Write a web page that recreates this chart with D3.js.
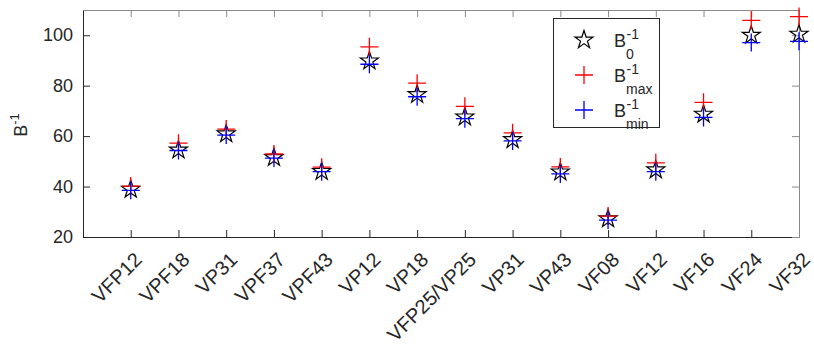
<!DOCTYPE html>
<html>
<head>
<meta charset="utf-8">
<script src="https://cdn.jsdelivr.net/npm/d3@7"></script>
<style>
  html, body { margin: 0; padding: 0; background: #fff; }
  svg { display: block; font-family: "Liberation Sans", Arial, Helvetica, sans-serif; }
</style>
</head>
<body>
<svg id="chart" width="814" height="345"></svg>
<script>
// Specimen names along the x axis
const categories = ["VFP12", "VPF18", "VP31", "VPF37", "VPF43", "VP12", "VP18",
  "VFP25/VP25", "VP31", "VP43", "VF08", "VF12", "VF16", "VF24", "VF32"];

// Inverse B values per specimen
const b0Values   = [38.9, 54.5, 60.9, 51.5, 46.0, 89.8, 76.5, 67.6, 58.6, 45.8, 27.2, 46.6, 68.7, 100.0, 100.4];
const bMaxValues = [40.2, 57.2, 62.8, 52.9, 47.7, 95.4, 81.0, 71.8, 61.3, 47.8, 28.3, 49.4, 73.4, 105.9, 107.4];
const bMinValues = [38.5, 54.3, 60.4, 51.3, 45.9, 88.5, 75.6, 66.9, 58.1, 45.0, 26.7, 45.9, 67.4, 97.1, 97.6];

const yTicks = [20, 40, 60, 80, 100];
const yDomain = [20, 110];

const svg = d3.select("#chart");
const margin = { left: 83, right: 15, top: 10, bottom: 108 };
const width = 814, height = 345;
const x0 = margin.left, x1 = width - margin.right;
const y0 = height - margin.bottom, y1 = margin.top;

const x = d3.scaleLinear().domain([0, categories.length]).range([x0, x1]);
const y = d3.scaleLinear().domain(yDomain).range([y0, y1]);

const axisColor = "#262626";
const fontSize = 18;

// Axes box with inward ticks on all four sides
const idx = d3.range(1, categories.length + 1);

const gBottom = svg.append("g").attr("transform", `translate(0,${y0})`)
  .call(d3.axisBottom(x).tickValues(idx).tickSizeInner(-7).tickSizeOuter(0)
    .tickFormat(d => categories[d - 1]));
const gTop = svg.append("g").attr("transform", `translate(0,${y1})`)
  .call(d3.axisTop(x).tickValues(idx).tickSizeInner(-7).tickSizeOuter(0).tickFormat(""));
const gLeft = svg.append("g").attr("transform", `translate(${x0},0)`)
  .call(d3.axisLeft(y).tickValues(yTicks).tickSizeInner(-7).tickSizeOuter(0).tickPadding(10));
const gRight = svg.append("g").attr("transform", `translate(${x1},0)`)
  .call(d3.axisRight(y).tickValues(yTicks).tickSizeInner(-7).tickSizeOuter(0).tickFormat(""));

[gBottom, gTop, gLeft, gRight].forEach(g => {
  g.selectAll("path.domain").attr("stroke", axisColor).attr("stroke-width", 1);
  g.selectAll(".tick line").attr("stroke", axisColor).attr("stroke-width", 1);
  g.selectAll("text").attr("fill", axisColor).attr("font-size", fontSize)
    .attr("font-family", "'Liberation Sans', Arial, Helvetica, sans-serif");
});
gTop.selectAll("path.domain, .tick line").attr("stroke", "#8a8a8a");
gRight.selectAll("path.domain, .tick line").attr("stroke", "#8a8a8a");

// Rotated category labels
gBottom.selectAll(".tick text")
  .attr("font-size", 20)
  .attr("text-anchor", "end")
  .attr("dy", "0.35em")
  .attr("y", 0)
  .attr("transform", "translate(7,19) rotate(-45)");

// Y-axis title: B^-1
const yTitle = svg.append("text")
  .attr("transform", "translate(27,125) rotate(-90)")
  .attr("text-anchor", "middle")
  .attr("fill", axisColor)
  .attr("font-size", fontSize);
yTitle.append("tspan").text("B");
yTitle.append("tspan").attr("font-size", 13).attr("dy", -8).text("-1");

// Marker shapes
function starPath(r) {
  const ri = r * 0.382;
  const pts = [];
  for (let i = 0; i < 10; i++) {
    const a = -Math.PI / 2 + i * Math.PI / 5;
    const rr = i % 2 === 0 ? r : ri;
    pts.push([rr * Math.cos(a), rr * Math.sin(a)]);
  }
  return "M" + pts.map(p => p[0].toFixed(2) + "," + p[1].toFixed(2)).join("L") + "Z";
}
function plusPath(h) {
  return `M${-h},0L${h},0M0,${-h}L0,${h}`;
}

const plot = svg.append("g");

function drawStars(values) {
  plot.append("g").selectAll("path").data(values).join("path")
    .attr("transform", (d, i) => `translate(${x(i + 1)},${y(d)})`)
    .attr("d", starPath(9.5))
    .attr("fill", "none").attr("stroke", "#000").attr("stroke-width", 1.2);
}
function drawPlus(values, color) {
  plot.append("g").selectAll("path").data(values).join("path")
    .attr("transform", (d, i) => `translate(${x(i + 1)},${y(d)})`)
    .attr("d", plusPath(9))
    .attr("fill", "none").attr("stroke", color).attr("stroke-width", 1.3);
}
drawStars(b0Values);
drawPlus(bMaxValues, "#ff0000");
drawPlus(bMinValues, "#0000ff");

// Legend
const legend = svg.append("g");
legend.append("rect")
  .attr("x", 553.5).attr("y", 18.5).attr("width", 106).attr("height", 109)
  .attr("fill", "#fff").attr("stroke", axisColor).attr("stroke-width", 1);

const legendItems = [
  { sub: "0", kind: "star", color: "#000" },
  { sub: "max", kind: "plus", color: "#ff0000" },
  { sub: "min", kind: "plus", color: "#0000ff" }
];
legendItems.forEach((it, i) => {
  const cy = 40 + i * 35;
  legend.append("path")
    .attr("transform", `translate(584,${cy})`)
    .attr("d", it.kind === "star" ? starPath(9.5) : plusPath(9))
    .attr("fill", "none").attr("stroke", it.color)
    .attr("stroke-width", it.kind === "star" ? 1.2 : 1.3);
  legend.append("text")
    .attr("x", 614).attr("y", cy + 7)
    .attr("fill", axisColor).attr("font-size", fontSize).text("B");
  legend.append("text")
    .attr("x", 626.5).attr("y", cy - 1.5)
    .attr("fill", axisColor).attr("font-size", 14).text("-1");
  legend.append("text")
    .attr("x", 626).attr("y", cy + 19)
    .attr("fill", axisColor).attr("font-size", 14).text(it.sub);
});
</script>
</body>
</html>
